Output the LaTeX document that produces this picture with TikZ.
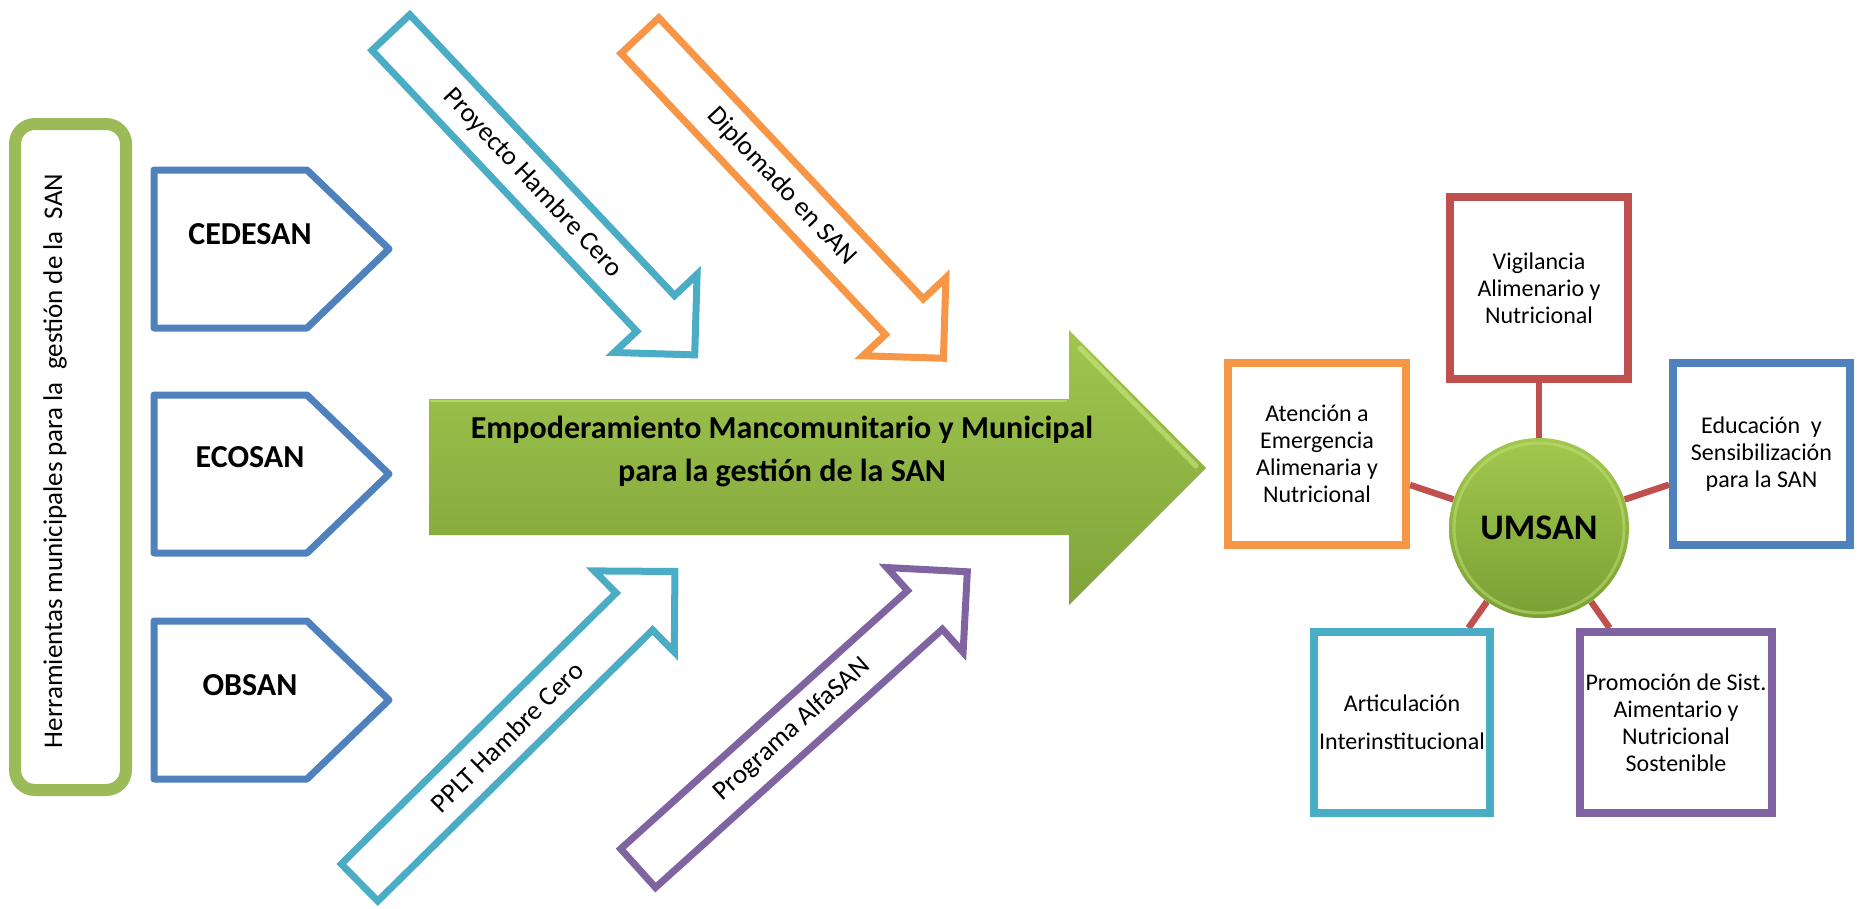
\documentclass[tikz,border=0pt]{standalone}
\usepackage{fontspec}
\setmainfont{Carlito}
\usetikzlibrary{backgrounds}
\definecolor{oblue}{RGB}{79,129,189}
\definecolor{ored}{RGB}{192,80,77}
\definecolor{ogreen}{RGB}{155,187,89}
\definecolor{opurple}{RGB}{128,100,162}
\definecolor{oaqua}{RGB}{75,172,198}
\definecolor{oorange}{RGB}{247,150,70}
\definecolor{gtop}{RGB}{160,198,78}
\definecolor{gbot}{RGB}{128,164,58}
\definecolor{ghigh}{RGB}{196,226,120}
\definecolor{ctop}{RGB}{162,200,78}
\definecolor{cbot}{RGB}{122,160,52}
\newcommand\myblockarrow[5]{%
  \begin{scope}[shift={#2},rotate=#3]
    \draw[arrowline,draw=#1] (0pt,-26pt) -- (386pt,-26pt) -- (386pt,-57pt) -- (443pt,0pt) -- (386pt,57pt) -- (386pt,26pt) -- (0pt,26pt) -- cycle;
    \node[difftext,transform shape] (#4) at (207pt,0pt) {#5};
  \end{scope}}
\tikzset{
  arrowline/.style={line width=7pt, line join=miter, fill=white},
  pent/.style={draw=oblue, line width=7pt, line join=round},
  pentxt/.style={font=\fontsize{32}{38}\selectfont\bfseries, inner sep=0pt},
  difftext/.style={font=\fontsize{27}{32}\selectfont, inner sep=0pt},
  sbox/.style={draw, line width=8pt, fill=white, align=center, font=\fontsize{24}{27}\selectfont, inner sep=0pt},
  conn/.style={draw=ored, line width=6.5pt},
}
\begin{document}
\begin{tikzpicture}[x=1pt,y=-1pt]
\useasboundingbox (0,0) rectangle (1857,908);
% left green frame
\draw[draw=ogreen, line width=12pt, rounded corners=20pt] (15,124) rectangle (126,790);
\node[rotate=90, font=\fontsize{27}{32}\selectfont, inner sep=0pt] (herr) at (55,461) {Herramientas municipales para la\ \ gestión de la\ \ SAN};
% pentagons
\draw[pent] (154,170) -- (307,170) -- (389,249) -- (307,328) -- (154,328) -- cycle;
\node[pentxt] (cedesan) at (250,234) {CEDESAN};
\draw[pent] (154,395) -- (307,395) -- (389,474) -- (307,553) -- (154,553) -- cycle;
\node[pentxt] (ecosan) at (250,457) {ECOSAN};
\draw[pent] (154,621) -- (307,621) -- (389,700) -- (307,779) -- (154,779) -- cycle;
\node[pentxt] (obsan) at (250,685) {OBSAN};
% diagonal arrows
\myblockarrow{oaqua}{(390.9,32.5)}{-46.7}{proy}{Proyecto Hambre Cero}
\myblockarrow{oorange}{(639.9,35.6)}{-46.75}{dipl}{Diplomado en SAN}
\myblockarrow{oaqua}{(359.5,882.5)}{44.6}{pplt}{PPLT Hambre Cero}
\myblockarrow{opurple}{(638.1,868.2)}{42}{prog}{Programa AlfaSAN}
% big arrow
\shade[top color=gtop, bottom color=gbot] (429,399) -- (1069,399) -- (1069,330) -- (1206,468) -- (1069,605) -- (1069,535) -- (429,535) -- cycle;
\draw[ghigh, line width=5pt, opacity=0.7, line cap=round] (1080,348) -- (1196,466);
\draw[ghigh, line width=2pt, opacity=0.6] (430,401) -- (1067,401);
\node[font=\fontsize{32}{43}\selectfont\bfseries, align=center, inner sep=0pt] (emp) at (782,451) {Empoderamiento Mancomunitario y Municipal\\para la gestión de la SAN};
% right cluster
\node[sbox, draw=ored, minimum width=178pt, minimum height=182pt] (vig) at (1539,288) {Vigilancia\\Alimenario y\\Nutricional};
\node[sbox, draw=oorange, minimum width=178pt, minimum height=182pt] (aten) at (1317,454) {Atención a\\Emergencia\\Alimenaria y\\Nutricional};
\node[sbox, draw=oblue, minimum width=177pt, minimum height=182pt] (edu) at (1761.5,454) {Educación\ \ y\\Sensibilización\\para la SAN};
\node[sbox, draw=oaqua, minimum width=176pt, minimum height=181pt] (art) at (1402,722.5) {Articulación\\[11pt]Interinstitucional};
\node[sbox, draw=opurple, minimum width=192pt, minimum height=181pt] (pro) at (1676,722.5) {Promoción de Sist.\\Aimentario y\\Nutricional\\Sostenible};
\node[circle, minimum size=180pt, inner sep=0pt, top color=ctop, bottom color=cbot, font=\fontsize{36}{40}\selectfont\bfseries] (umsan) at (1539,528) {UMSAN};
\draw[ghigh, line width=3pt, opacity=0.5] (umsan.center) circle[radius=85pt];
\begin{scope}[on background layer]
\draw[conn] (umsan) -- (vig);
\draw[conn] (umsan) -- (aten);
\draw[conn] (umsan) -- (edu);
\draw[conn] (umsan) -- (art);
\draw[conn] (umsan) -- (pro);
\end{scope}
\end{tikzpicture}
\end{document}
